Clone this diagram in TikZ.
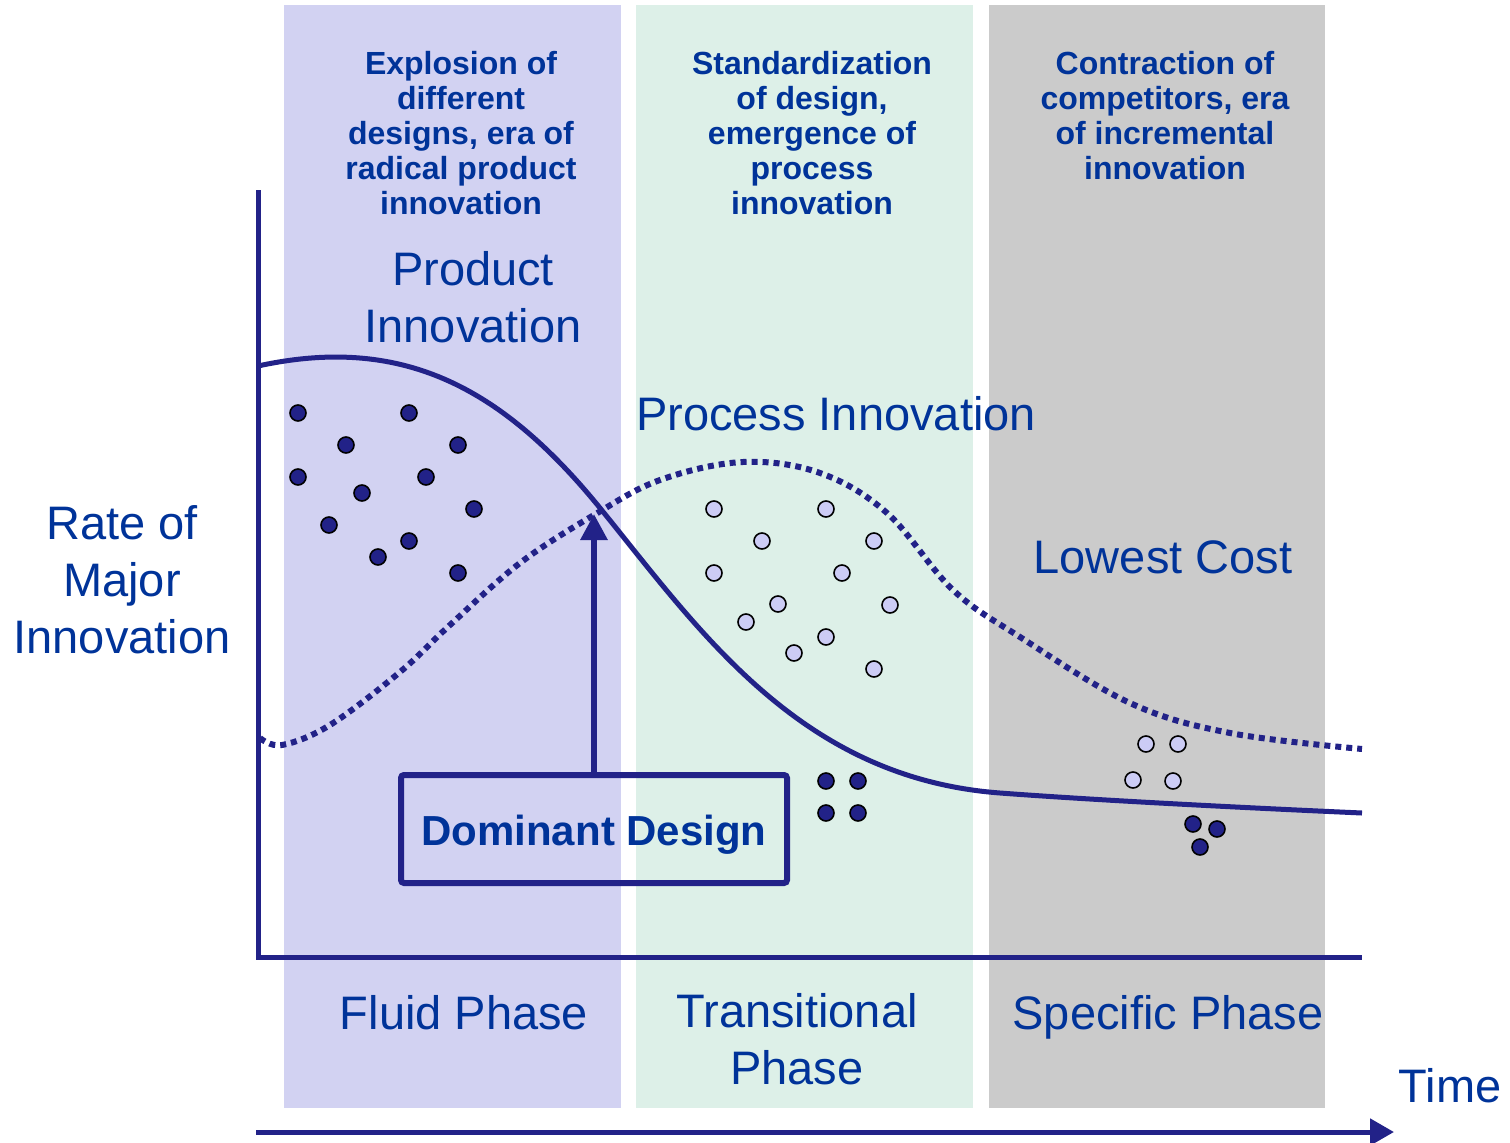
\documentclass[tikz,border=0pt]{standalone}
\usepackage{fontspec}
\setmainfont{Liberation Sans}
\usetikzlibrary{arrows.meta}
\definecolor{txtblue}{RGB}{0,51,153}
\definecolor{navy}{RGB}{34,34,136}
\definecolor{fluidbg}{RGB}{210,210,242}
\definecolor{transbg}{RGB}{221,240,232}
\definecolor{specbg}{RGB}{203,203,203}
\definecolor{lightdot}{RGB}{204,204,245}
\tikzset{
  header/.style={text=txtblue, font=\fontsize{32}{35}\selectfont\bfseries, align=center, inner sep=0pt, anchor=north},
  biglabel/.style={text=txtblue, font=\fontsize{47}{57}\selectfont, align=center, inner sep=0pt},
  axisline/.style={draw=navy, line width=5pt},
  solidcurve/.style={draw=navy, line width=5pt},
  dotcurve/.style={draw=navy, line width=6pt, dash pattern=on 6pt off 5pt},
  darkdot/.style={circle, fill=navy, draw=black, line width=1.6pt, minimum size=16pt, inner sep=0pt},
  lightdotst/.style={circle, fill=lightdot, draw=black, line width=1.6pt, minimum size=16pt, inner sep=0pt},
  ddbox/.style={draw=navy, line width=6pt, rounded corners=3pt, minimum width=386pt, minimum height=108pt, text=txtblue, font=\fontsize{42}{50}\selectfont\bfseries, inner sep=0pt, text height=32pt, text depth=0pt}
}
\begin{document}
\begin{tikzpicture}[x=1pt,y=-1pt]
\useasboundingbox (0,0) rectangle (1510,1143);
% panels
\fill[fluidbg] (284,5) rectangle (621,1108);
\fill[transbg] (636,5) rectangle (973,1108);
\fill[specbg] (989,5) rectangle (1325,1108);
% headers
\node[header] (h1) at (461,51) {Explosion of\\different\\designs, era of\\radical product\\innovation};
\node[header] (h2) at (812,51) {Standardization\\of design,\\emergence of\\process\\innovation};
\node[header] (h3) at (1165,51) {Contraction of\\competitors, era\\of incremental\\innovation};
% labels
\node[biglabel, anchor=north] (rate) at (122,505) {Rate of\\Major\\Innovation};
\node[biglabel, anchor=north] (prod) at (473,251) {Product\\Innovation};
\node[biglabel, anchor=base] (proc) at (836,430) {Process Innovation};
\node[biglabel, anchor=base] (low) at (1163,573) {Lowest Cost};
\node[biglabel, anchor=base] (fluid) at (464,1029) {Fluid Phase};
\node[biglabel, anchor=north] (trans) at (797,993) {Transitional\\Phase};
\node[biglabel, anchor=base] (spec) at (1168,1029) {Specific Phase};
\node[biglabel, anchor=base] (time) at (1450,1102) {Time};
% axes
\coordinate (ytop) at (258,190);
\coordinate (origin) at (258,957);
\coordinate (xend) at (1362,957);
\draw[axisline] (ytop) -- (origin) -- (xend);
\coordinate (tstart) at (256,1132);
\coordinate (tend) at (1394,1132);
\draw[axisline, -{Triangle[length=24pt,width=26pt]}] (tstart) -- (tend);
% dotted process innovation curve
\draw[dotcurve] plot[smooth, tension=0.6] coordinates {(260,738) (282,745) (330,725) (400,672) (450,625) (520,563) (594,515) (660,480) (743,462) (820,473) (887,513) (953,590) (1020,637) (1130,703) (1230,733) (1362,749)};
% solid product innovation curve
\coordinate (s0) at (258,366);
\coordinate (s1) at (600,508);
\coordinate (s2) at (1000,793);
\coordinate (s3) at (1362,813);
\draw[solidcurve] (s0) .. controls (400,335) and (500,385) .. (s1)
  .. controls (700,631) and (800,778) .. (s2)
  .. controls (1100,800.5) and (1250,808) .. (s3);
% dots fluid
\foreach \x/\y [count=\i] in {298/413,409/413,346/445,458/445,298/477,426/477,362/493,474/509,329/525,409/541,378/557,458/573}
  \node[darkdot] (fd\i) at (\x,\y) {};
% dots transitional
\foreach \x/\y [count=\i] in {714/509,826/509,762/541,874/541,714/573,842/573,778/604,890/605,746/622,826/637,794/653,874/669}
  \node[lightdotst] (tl\i) at (\x,\y) {};
\foreach \x/\y [count=\i] in {826/781,858/781,826/813,858/813}
  \node[darkdot] (td\i) at (\x,\y) {};
% dots specific
\foreach \x/\y [count=\i] in {1146/744,1178/744,1133/780,1173/781}
  \node[lightdotst] (sl\i) at (\x,\y) {};
\foreach \x/\y [count=\i] in {1193/824,1217/829,1200/847}
  \node[darkdot] (sd\i) at (\x,\y) {};
% dominant design
\node[ddbox] (dd) at (594,829) {Dominant Design};
\coordinate (cross) at (594,514);
\draw[draw=navy, line width=6pt, -{Triangle[length=26pt,width=26pt]}] (dd.north) -- (cross);
\end{tikzpicture}
\end{document}
